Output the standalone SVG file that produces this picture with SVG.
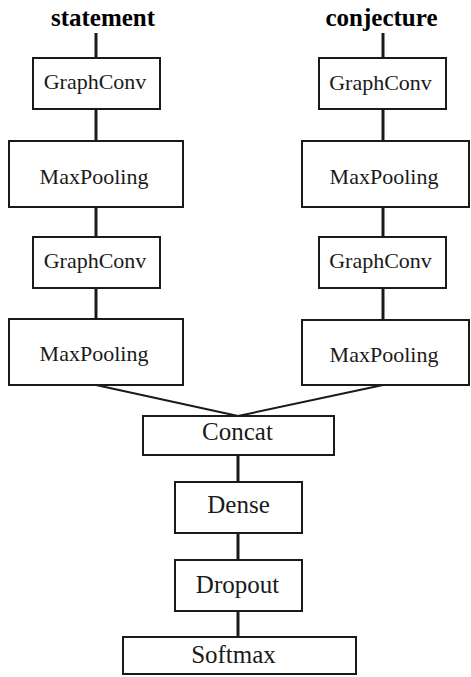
<svg xmlns="http://www.w3.org/2000/svg" width="471" height="677" viewBox="0 0 471 677">
<style>
.box{fill:#fff;stroke:#1a1a1a;stroke-width:2}
.t{font-family:"Liberation Serif","Times New Roman",serif;font-size:22px;fill:#1a1a1a;text-anchor:middle}
.b{font-size:25px}
.h{font-family:"Liberation Serif","Times New Roman",serif;font-size:25px;font-weight:bold;fill:#000;text-anchor:middle}
.c{stroke:#1a1a1a;stroke-width:3;fill:none}
.d{stroke:#1a1a1a;stroke-width:2;fill:none}
</style>
<rect width="471" height="677" fill="#fff"/>
<g id="connectors">
<line class="c" x1="96" y1="33" x2="96" y2="58"/>
<line class="c" x1="96" y1="109" x2="96" y2="141"/>
<line class="c" x1="96" y1="207" x2="96" y2="237"/>
<line class="c" x1="96" y1="288" x2="96" y2="319"/>
<line class="c" x1="383" y1="33" x2="383" y2="58"/>
<line class="c" x1="383" y1="109" x2="383" y2="141"/>
<line class="c" x1="383" y1="207" x2="383" y2="237"/>
<line class="c" x1="383" y1="288" x2="383" y2="320"/>
<line class="d" x1="96" y1="385" x2="238" y2="416"/>
<line class="d" x1="383" y1="385" x2="238" y2="416"/>
<line class="c" x1="238" y1="455" x2="238" y2="482"/>
<line class="c" x1="238" y1="533" x2="238" y2="560"/>
<line class="c" x1="238" y1="611" x2="238" y2="637"/>
</g>
<g id="title-statement"><text class="h" x="103" y="26">statement</text></g>
<g id="title-conjecture"><text class="h" x="381.5" y="26">conjecture</text></g>
<g id="s-graphconv1"><rect class="box" x="33" y="58" width="127" height="51"/><text class="t" x="95" y="89">GraphConv</text></g>
<g id="s-maxpool1"><rect class="box" x="9" y="141" width="174" height="66"/><text class="t" x="94" y="184">MaxPooling</text></g>
<g id="s-graphconv2"><rect class="box" x="33" y="237" width="127" height="51"/><text class="t" x="95" y="268">GraphConv</text></g>
<g id="s-maxpool2"><rect class="box" x="9" y="319" width="174" height="66"/><text class="t" x="94" y="361">MaxPooling</text></g>
<g id="c-graphconv1"><rect class="box" x="319" y="58" width="127" height="51"/><text class="t" x="380.5" y="90">GraphConv</text></g>
<g id="c-maxpool1"><rect class="box" x="302" y="141" width="167" height="66"/><text class="t" x="384" y="184">MaxPooling</text></g>
<g id="c-graphconv2"><rect class="box" x="319" y="237" width="127" height="51"/><text class="t" x="380.5" y="268">GraphConv</text></g>
<g id="c-maxpool2"><rect class="box" x="302" y="320" width="167" height="65"/><text class="t" x="384" y="362">MaxPooling</text></g>
<g id="concat"><rect class="box" x="143" y="416" width="191" height="39"/><text class="t b" x="237.5" y="440">Concat</text></g>
<g id="dense"><rect class="box" x="175" y="482" width="127" height="51"/><text class="t b" x="238.5" y="513">Dense</text></g>
<g id="dropout"><rect class="box" x="175" y="560" width="127" height="51"/><text class="t b" x="237.5" y="593">Dropout</text></g>
<g id="softmax"><rect class="box" x="123" y="637" width="233" height="37"/><text class="t b" x="233.5" y="663">Softmax</text></g>
</svg>
